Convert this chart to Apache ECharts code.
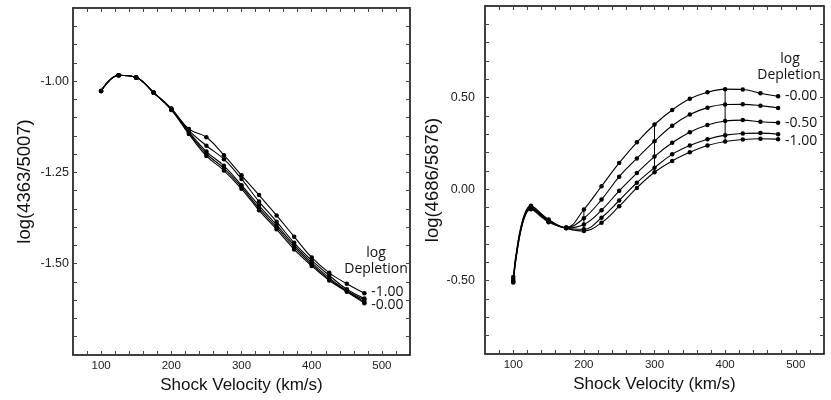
<!DOCTYPE html>
<html>
<head>
<meta charset="utf-8">
<script src="https://cdn.jsdelivr.net/npm/echarts@6/dist/echarts.min.js"></script>
<style>
  html, body { margin: 0; padding: 0; background: #fff; }
  #chart { width: 831px; height: 400px; }
</style>
</head>
<body>
<div id="chart"></div>
<script>
  // shock velocities (km/s)
  var velocity = [100, 125, 150, 175, 200, 225, 250, 275, 300, 325, 350, 375, 400, 425, 450, 475];

  // left panel: log(4363/5007), one array per log depletion
  var oiiiDep000 = [-1.027, -0.984, -0.990, -1.032, -1.079, -1.145, -1.205, -1.245, -1.295, -1.354, -1.406, -1.461, -1.506, -1.546, -1.577, -1.608];
  var oiiiDep025 = [-1.027, -0.984, -0.990, -1.032, -1.078, -1.142, -1.199, -1.239, -1.290, -1.348, -1.400, -1.455, -1.502, -1.543, -1.575, -1.605];
  var oiiiDep050 = [-1.027, -0.984, -0.990, -1.032, -1.077, -1.139, -1.193, -1.232, -1.285, -1.341, -1.394, -1.449, -1.497, -1.539, -1.574, -1.599];
  var oiiiDep075 = [-1.027, -0.984, -0.990, -1.032, -1.076, -1.135, -1.177, -1.214, -1.268, -1.330, -1.385, -1.443, -1.491, -1.532, -1.570, -1.595];
  var oiiiDep100 = [-1.027, -0.984, -0.990, -1.032, -1.075, -1.131, -1.154, -1.203, -1.258, -1.312, -1.368, -1.426, -1.483, -1.525, -1.555, -1.581];

  // right panel: log(4686/5876)
  var heDep000 = [-0.480, -0.090, -0.165, -0.210, -0.111, 0.016, 0.143, 0.256, 0.353, 0.432, 0.493, 0.529, 0.546, 0.544, 0.524, 0.507];
  var heDep025 = [-0.490, -0.095, -0.168, -0.210, -0.159, -0.057, 0.068, 0.168, 0.262, 0.346, 0.407, 0.445, 0.462, 0.463, 0.456, 0.443];
  var heDep050 = [-0.500, -0.100, -0.172, -0.212, -0.193, -0.115, -0.009, 0.088, 0.178, 0.253, 0.311, 0.350, 0.372, 0.377, 0.368, 0.363];
  var heDep075 = [-0.505, -0.105, -0.175, -0.212, -0.219, -0.156, -0.062, 0.035, 0.117, 0.190, 0.238, 0.273, 0.295, 0.304, 0.306, 0.300];
  var heDep100 = [-0.510, -0.110, -0.180, -0.214, -0.228, -0.183, -0.093, 0.007, 0.092, 0.154, 0.201, 0.238, 0.260, 0.271, 0.275, 0.273];

  // velocities where the right panel curves are joined by a vertical line
  var joinVelocity = [200, 300, 400];

  var axisFont = 'Liberation Sans, Arial, Helvetica, sans-serif';
  var noteFont = 'Open Sans, Noto Sans, sans-serif';

  function pairs(ys) {
    return velocity.map(function (v, i) { return [v, ys[i]]; });
  }

  function curve(ys, gi, label, offset) {
    var s = {
      type: 'line',
      xAxisIndex: gi * 2,
      yAxisIndex: gi * 2,
      data: pairs(ys),
      smooth: 0.4,
      symbol: 'circle',
      symbolSize: 4.5,
      itemStyle: { color: '#000' },
      lineStyle: { color: '#000', width: 1.1 },
      z: 3
    };
    if (label) {
      s.endLabel = {
        show: true,
        formatter: label,
        distance: 7,
        offset: offset || [0, 0],
        color: '#111',
        fontFamily: noteFont,
        fontSize: 14
      };
    }
    return s;
  }

  function tickLabel(v, step, lo, hi) {
    var r = Math.round(v * 100);
    if (r % step !== 0 || r < lo || r > hi) return '';
    return (r / 100).toFixed(2);
  }

  function xAxes(gi) {
    var base = {
      type: 'value',
      gridIndex: gi,
      min: 60,
      max: 540,
      interval: 20,
      splitLine: { show: false },
      axisLine: { show: true, onZero: false, lineStyle: { color: '#000', width: 1.5 } },
      axisTick: { show: true, inside: true, length: 4, lineStyle: { color: '#444', width: 1 } }
    };
    var bottom = Object.assign({}, base, {
      position: 'bottom',
      name: 'Shock Velocity (km/s)',
      nameLocation: 'middle',
      nameGap: 22,
      nameTextStyle: { fontFamily: axisFont, fontSize: 17, color: '#111' },
      axisLabel: {
        margin: 5,
        fontFamily: axisFont,
        fontSize: 11.5,
        color: '#222',
        formatter: function (v) { return (v % 100 === 0 && v >= 100 && v <= 500) ? String(v) : ''; }
      }
    });
    var top = Object.assign({}, base, { position: 'top', axisLabel: { show: false } });
    return [bottom, top];
  }

  function yAxes(gi, cfg) {
    var base = {
      type: 'value',
      gridIndex: gi,
      min: cfg.min,
      max: cfg.max,
      interval: cfg.interval,
      splitLine: { show: false },
      axisLine: { show: true, onZero: false, lineStyle: { color: '#000', width: 1.5 } },
      axisTick: { show: true, inside: true, length: 4, lineStyle: { color: '#444', width: 1 } }
    };
    var left = Object.assign({}, base, {
      position: 'left',
      name: cfg.name,
      nameLocation: 'middle',
      nameGap: cfg.nameGap,
      nameTextStyle: { fontFamily: axisFont, fontSize: 18.5, color: '#111' },
      axisLabel: {
        margin: cfg.margin,
        fontFamily: axisFont,
        fontSize: 12.5,
        color: '#222',
        formatter: function (v) { return tickLabel(v, cfg.step, cfg.lo, cfg.hi); }
      }
    });
    var right = Object.assign({}, base, { position: 'right', axisLabel: { show: false } });
    return [left, right];
  }

  var joinSeries = joinVelocity.map(function (v) {
    var i = velocity.indexOf(v);
    return {
      type: 'line',
      xAxisIndex: 2,
      yAxisIndex: 2,
      data: [[v, heDep000[i]], [v, heDep100[i]]],
      symbol: 'none',
      lineStyle: { color: '#000', width: 1 },
      z: 2
    };
  });

  var chart = echarts.init(document.getElementById('chart'), null, { renderer: 'canvas' });

  var option = {
    animation: false,
    backgroundColor: '#fff',
    grid: [
      { left: 73, top: 8, width: 337, height: 347 },
      { left: 485, top: 6, width: 339, height: 348 }
    ],
    xAxis: xAxes(0).concat(xAxes(1)),
    yAxis: yAxes(0, { min: -1.75, max: -0.80, interval: 0.05, step: 25, lo: -150, hi: -100,
                      name: 'log(4363/5007)', nameGap: 39, margin: 4 })
      .concat(yAxes(1, { min: -0.9, max: 1.0, interval: 0.1, step: 50, lo: -50, hi: 50,
                         name: 'log(4686/5876)', nameGap: 42, margin: 10 })),
    graphic: [
      { type: 'text', style: { x: 376, y: 253, text: 'log', textAlign: 'center', textVerticalAlign: 'middle', font: '14px ' + noteFont, fill: '#111' } },
      { type: 'text', style: { x: 376, y: 269, text: 'Depletion', textAlign: 'center', textVerticalAlign: 'middle', font: '14px ' + noteFont, fill: '#111' } },
      { type: 'text', style: { x: 790, y: 59, text: 'log', textAlign: 'center', textVerticalAlign: 'middle', font: '14px ' + noteFont, fill: '#111' } },
      { type: 'text', style: { x: 789, y: 75, text: 'Depletion', textAlign: 'center', textVerticalAlign: 'middle', font: '14px ' + noteFont, fill: '#111' } }
    ],
    series: [
      curve(oiiiDep000, 0, '-0.00', [0, 2]),
      curve(oiiiDep025, 0),
      curve(oiiiDep050, 0),
      curve(oiiiDep075, 0),
      curve(oiiiDep100, 0, '-1.00', [0, -1]),
      curve(heDep000, 1, '-0.00', [0, 0]),
      curve(heDep025, 1),
      curve(heDep050, 1, '-0.50', [0, 0]),
      curve(heDep075, 1),
      curve(heDep100, 1, '-1.00', [0, 2])
    ].concat(joinSeries)
  };

  chart.setOption(option);
</script>
</body>
</html>
